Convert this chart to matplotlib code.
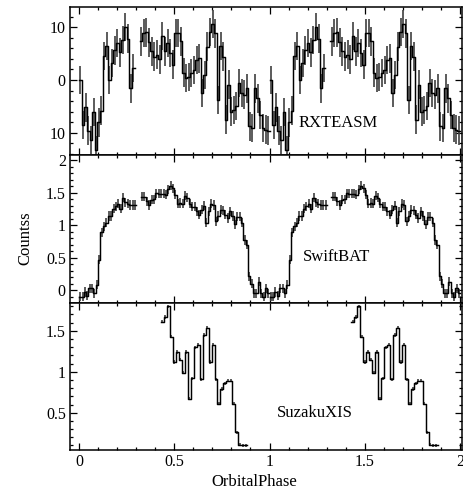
import numpy as np
import matplotlib
matplotlib.use('Agg')
import matplotlib.pyplot as plt
from matplotlib.ticker import MultipleLocator, FixedLocator, FixedFormatter

plt.rcParams['font.family'] = ['Liberation Serif', 'DejaVu Serif']
plt.rcParams['font.size'] = 11

# folded light curves, one orbital cycle each (repeated for phase 1-2)
asm_rate = [0, -8.5, -5.2, -9.6, -11.4, -6.1, -13.3, -8, -5.8, 4.5,
            6.4, 0, 3.2, 5.6, 7, 5.2, 7.6, 10, 7.8, -1.6,
            2.3, np.nan, np.nan, 7.3, 8.9, 9, 7.1, 5.4, 4.4, 4.8,
            3.9, 8.3, 5.4, 7, 5.1, 2.9, 8.9, 8.9, 7.3, 1.4,
            0.4, 0.6, 1.3, 1.9, 3.8, 4.1, -2.5, 0.9, 6.3, 9.1,
            10.6, 8.8, -3.8, 6.4, 4.4, -7.5, -0.9, -6, -5.7, -4.9,
            -0.6, -2.5, -2.8, -1.6, -8.8, -9.1, -1.6, -3.5, -6.6, -9.1,
            -9.4, -9.6]
asm_err = 2.7

bat_rate = [-0.10, -0.10, -0.03, -0.09, 0.03, 0.03, -0.05, 0.08, 0.47, 0.89,
            0.98, 1.04, 1.14, 1.14, 1.25, 1.29, 1.33, 1.25, 1.42, 1.35,
            1.33, 1.31, 1.31, 1.31, np.nan, np.nan, 1.44, 1.44, 1.37, 1.31,
            1.39, 1.40, 1.49, 1.48, 1.48, 1.48, 1.47, 1.55, 1.61, 1.57,
            1.47, 1.33, 1.34, 1.33, 1.45, 1.42, 1.33, 1.28, 1.28, 1.21,
            1.16, 1.24, 1.30, 1.04, 1.21, 1.33, 1.31, 1.06, 1.14, 1.24,
            1.23, 1.16, 1.11, 1.21, 1.14, 1.01, 1.13, 1.13, 1.04, 0.77,
            0.70, 0.21, 0.10, -0.05, -0.05, 0.13, -0.05, -0.10, 0.03, -0.05]
bat_err = 0.07

xis_rate = [1.61, 1.67, 1.80, 1.43, 1.12, 1.24, 1.15, 0.99, 1.24, 0.67,
            0.92, 1.30, 1.33, 0.91, 1.45, 1.54, 1.12, 1.33, 0.91, 0.61,
            0.79, 0.86, 0.89, 0.89, 0.61, 0.26, 0.11, 0.10, 0.10]
xis_err = 0.02
xis_start = 0.43
xis_nbin = 64


def two_cycles(rate, start=0.0, nbin=None):
    rate = np.asarray(rate, dtype=float)
    if nbin is None:
        nbin = len(rate)
    w = 1.0 / nbin
    edges = start + np.arange(len(rate) + 1) * w
    return [(edges, rate), (edges + 1, rate)]


def draw(ax, rate, err, start=0.0, nbin=None):
    for edges, y in two_cycles(rate, start, nbin):
        cen = 0.5 * (edges[:-1] + edges[1:])
        ax.vlines(cen, y - err, y + err, color='0.25', lw=1.2)
        ax.step(edges, np.append(y, y[-1]), where='post', color='k', lw=1.05)


fig = plt.figure(figsize=(4.63, 4.91), dpi=100)
left, width = 0.1512, 0.8467
ax1 = fig.add_axes([left, 0.6843, width, 0.3014])
ax2 = fig.add_axes([left, 0.3829, width, 0.3014])
ax3 = fig.add_axes([left, 0.0835, width, 0.2994])

draw(ax1, asm_rate, asm_err)
draw(ax2, bat_rate, bat_err)
draw(ax3, xis_rate, xis_err, xis_start, xis_nbin)

ax1.set_ylim(-14.2, 13.8)
ax1.yaxis.set_major_locator(FixedLocator([-10, 0, 10]))
ax1.yaxis.set_major_formatter(FixedFormatter(['10', '0', '10']))
ax1.yaxis.set_minor_locator(MultipleLocator(2))

ax2.set_ylim(-0.2, 2.08)
ax2.yaxis.set_major_locator(FixedLocator([0, 0.5, 1, 1.5, 2]))
ax2.yaxis.set_major_formatter(FixedFormatter(['0', '0.5', '1', '1.5', '2']))
ax2.yaxis.set_minor_locator(MultipleLocator(0.1))

ax3.set_ylim(0.045, 1.84)
ax3.yaxis.set_major_locator(FixedLocator([0.5, 1, 1.5]))
ax3.yaxis.set_major_formatter(FixedFormatter(['0.5', '1', '1.5']))
ax3.yaxis.set_minor_locator(MultipleLocator(0.1))

for ax in (ax1, ax2, ax3):
    ax.set_xlim(-0.047, 2.01)
    ax.xaxis.set_major_locator(FixedLocator([0, 0.5, 1, 1.5, 2]))
    ax.xaxis.set_minor_locator(MultipleLocator(0.1))
    ax.tick_params(which='both', direction='in', top=True, right=True,
                   width=0.9, labelsize=11.5, pad=3)
    ax.tick_params(which='major', length=5)
    ax.tick_params(which='minor', length=2.5)
    for s in ax.spines.values():
        s.set_linewidth(1.1)
for ax in (ax1, ax2):
    ax.tick_params(labelbottom=False)
ax3.xaxis.set_major_formatter(FixedFormatter(['0', '0.5', '1', '1.5', '2']))

ax1.text(0.684, 0.216, 'RXTEASM', transform=ax1.transAxes,
         ha='center', va='center', fontsize=12)
ax2.text(0.681, 0.311, 'SwiftBAT', transform=ax2.transAxes,
         ha='center', va='center', fontsize=12)
ax3.text(0.625, 0.252, 'SuzakuXIS', transform=ax3.transAxes,
         ha='center', va='center', fontsize=12)

fig.text(0.054, 1 - 238 / 491, 'Countss', rotation=90,
         ha='center', va='center', fontsize=12)
fig.text(0.55, 1 - 482 / 491, 'OrbitalPhase', ha='center', va='center',
         fontsize=12)

fig.savefig('out.png', dpi=100)
